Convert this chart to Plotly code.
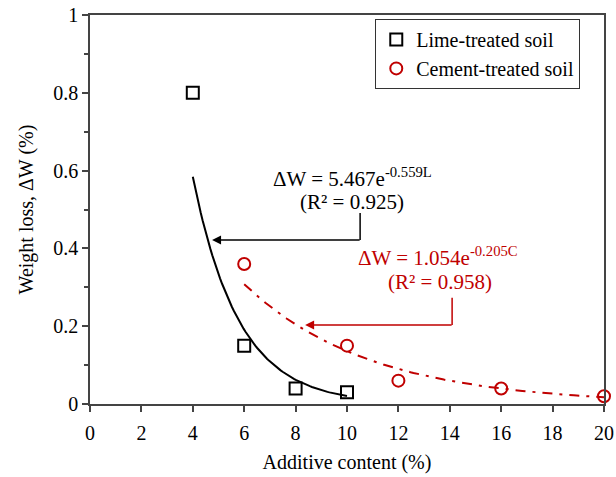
import numpy as np
import plotly.graph_objects as go

# Data
lime_x = [4, 6, 8, 10]
lime_y = [0.80, 0.15, 0.04, 0.03]
cement_x = [6, 10, 12, 16, 20]
cement_y = [0.36, 0.15, 0.06, 0.04, 0.02]

# Fitted exponential trendlines as printed on the chart: y = a * exp(b * x)
lime_fit = [5.467, -0.559]
cement_fit = [1.054, -0.205]
lime_range = [4, 10]
cement_range = [6, 20]

x_ticks = [0, 2, 4, 6, 8, 10, 12, 14, 16, 18, 20]
y_ticks = [0, 0.2, 0.4, 0.6, 0.8, 1]

FONT = "Liberation Serif, Times New Roman, serif"
RED = "#c00000"

lx = np.linspace(lime_range[0], lime_range[1], 80)
ly = lime_fit[0] * np.exp(lime_fit[1] * lx)
cx = np.linspace(cement_range[0], cement_range[1], 120)
cy = cement_fit[0] * np.exp(cement_fit[1] * cx)

fig = go.Figure()
fig.add_trace(go.Scatter(x=lx, y=ly, mode="lines", line=dict(color="black", width=2),
                         showlegend=False, hoverinfo="skip"))
fig.add_trace(go.Scatter(x=cx, y=cy, mode="lines", line=dict(color=RED, width=2, dash="10px,7px,3px,7px"),
                         showlegend=False, hoverinfo="skip"))
fig.add_trace(go.Scatter(x=lime_x, y=lime_y, mode="markers", name="Lime-treated soil",
                         marker=dict(symbol="square-open", size=12, color="black", line=dict(width=2))))
fig.add_trace(go.Scatter(x=cement_x, y=cement_y, mode="markers", name="Cement-treated soil",
                         marker=dict(symbol="circle-open", size=12, color=RED, line=dict(width=2)),
                         cliponaxis=False))

# Annotation texts
fig.add_annotation(x=10.23, y=0.5835, text="ΔW = 5.467e<sup>-0.559L</sup>", showarrow=False,
                   font=dict(family=FONT, size=21, color="black"))
fig.add_annotation(x=10.19, y=0.519, text="(R² = 0.925)", showarrow=False,
                   font=dict(family=FONT, size=21, color="black"))
fig.add_annotation(x=13.54, y=0.378, text="ΔW = 1.054e<sup>-0.205C</sup>", showarrow=False,
                   font=dict(family=FONT, size=21, color=RED))
fig.add_annotation(x=13.62, y=0.3136, text="(R² = 0.958)", showarrow=False,
                   font=dict(family=FONT, size=21, color=RED))

# Elbow arrows
fig.add_shape(type="line", x0=10.51, x1=10.51, y0=0.491, y1=0.4216, line=dict(color="black", width=1.5))
fig.add_annotation(x=4.75, y=0.4216, ax=10.55, ay=0.4216, axref="x", ayref="y", xref="x", yref="y",
                   showarrow=True, arrowhead=2, arrowsize=1.2, arrowwidth=1.5, arrowcolor="black", text="")
fig.add_shape(type="line", x0=14.09, x1=14.09, y0=0.273, y1=0.203, line=dict(color=RED, width=1.5))
fig.add_annotation(x=8.37, y=0.203, ax=14.13, ay=0.203, axref="x", ayref="y", xref="x", yref="y",
                   showarrow=True, arrowhead=2, arrowsize=1.2, arrowwidth=1.5, arrowcolor=RED, text="")

fig.update_layout(
    width=616, height=477,
    margin=dict(l=90, r=12, t=15, b=73, autoexpand=False),
    paper_bgcolor="white", plot_bgcolor="white",
    font=dict(family=FONT, size=20, color="black"),
    showlegend=True,
    legend=dict(x=0.555, y=0.99, xanchor="left", yanchor="top",
                bordercolor="#333", borderwidth=1, bgcolor="white",
                font=dict(family=FONT, size=20), itemwidth=30,
                tracegroupgap=0),
    xaxis=dict(range=[0, 20], tickvals=x_ticks, ticks="outside", ticklen=6, tickwidth=1.5,
               tickcolor="#444", showline=True, linecolor="#444", linewidth=1.5, mirror=True,
               showgrid=False, zeroline=False, automargin=False, ticklabelstandoff=4,
               title=dict(text="Additive content (%)", font=dict(family=FONT, size=20), standoff=12),
               tickfont=dict(family=FONT, size=20)),
    yaxis=dict(range=[0, 1], tickvals=y_ticks, ticktext=["0", "0.2", "0.4", "0.6", "0.8", "1"],
               ticks="outside", ticklen=6, tickwidth=1.5,
               tickcolor="#444", showline=True, linecolor="#444", linewidth=1.5, mirror=True,
               showgrid=False, zeroline=False, automargin=False,
               minor=dict(dtick=0.1, ticks="outside", ticklen=4, tickcolor="#444", showgrid=False),
               title=dict(text="Weight loss, ΔW (%)", font=dict(family=FONT, size=20), standoff=14),
               tickfont=dict(family=FONT, size=20)),
)

fig.write_html("out.html")
